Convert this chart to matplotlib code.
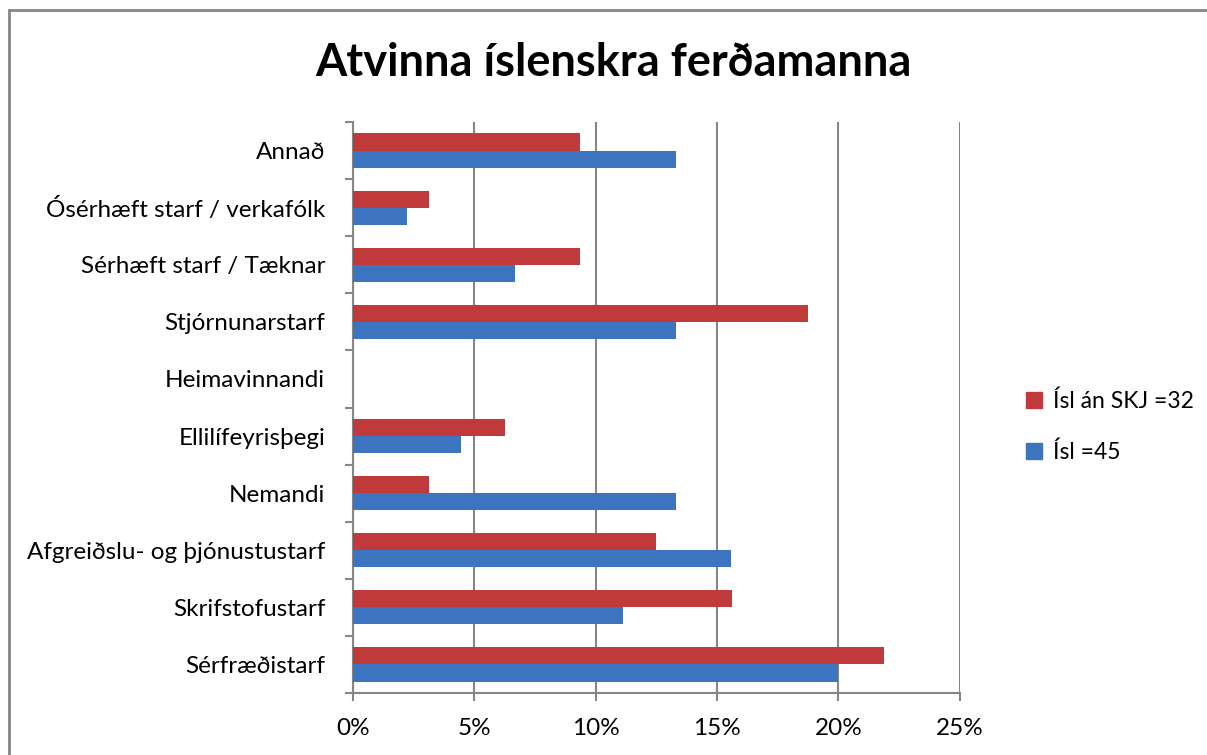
import numpy as np
import matplotlib.pyplot as plt
from matplotlib.patches import Rectangle, Patch
from matplotlib.ticker import PercentFormatter

categories = [
    "Sérfræðistarf",
    "Skrifstofustarf",
    "Afgreiðslu- og þjónustustarf",
    "Nemandi",
    "Ellilífeyrisþegi",
    "Heimavinnandi",
    "Stjórnunarstarf",
    "Sérhæft starf / Tæknar",
    "Ósérhæft starf / verkafólk",
    "Annað",
]
isl_45 = [20.0, 11.11, 15.56, 13.33, 4.44, 0.0, 13.33, 6.67, 2.22, 13.33]
isl_an_skj = [21.875, 15.625, 12.5, 3.125, 6.25, 0.0, 18.75, 9.375, 3.125, 9.375]
series_names = ["Ísl án SKJ =32", "Ísl =45"]
x_ticks = [0, 5, 10, 15, 20, 25]

plt.rcParams["font.family"] = ["Lato", "DejaVu Sans"]

red = "#C0393B"
blue = "#3C74C0"
grid_c = "#868686"

fig = plt.figure(figsize=(12.07, 7.55), dpi=100)
ax = fig.add_axes([0.2925, 0.0821, 0.5025, 0.7563])

y = np.arange(len(categories))
h = 0.3
ax.barh(y + h / 2, isl_an_skj, height=h, color=red, zorder=3)
ax.barh(y - h / 2, isl_45, height=h, color=blue, zorder=3)

ax.set_xlim(0, 25)
ax.set_ylim(-0.5, len(categories) - 0.5)
ax.set_xticks(x_ticks)
ax.xaxis.set_major_formatter(PercentFormatter(decimals=0))
ax.grid(axis="x", color=grid_c, linewidth=1.5, zorder=0)

ax.set_yticks(y)
ax.set_yticklabels(categories)
ax.set_yticks(np.arange(-0.5, len(categories)), minor=True)
ax.tick_params(axis="y", which="major", length=0, pad=20, labelsize=17.5)
ax.tick_params(axis="y", which="minor", length=6, width=1.5, color=grid_c)
ax.tick_params(axis="x", length=6, width=1.5, color=grid_c, labelsize=17.5, pad=12)

for side in ["top", "right"]:
    ax.spines[side].set_visible(False)
for side in ["left", "bottom"]:
    ax.spines[side].set_color(grid_c)
    ax.spines[side].set_linewidth(1.5)

fig.text(0.508, 0.916, "Atvinna íslenskra ferðamanna", ha="center", va="center",
         fontsize=32.5, fontweight="bold")

handles = [Patch(color=red), Patch(color=blue)]
fig.legend(handles, series_names, loc="center left", bbox_to_anchor=(0.85, 0.435),
           frameon=False, fontsize=16.5, handlelength=0.7, handleheight=0.7,
           labelspacing=1.3, handletextpad=0.5, borderaxespad=0, borderpad=0)

# outer chart frame
fig.add_artist(Rectangle((9 / 1207, -0.01), 1.02, 1 - 10 / 755 + 0.01,
                         transform=fig.transFigure, fill=False,
                         edgecolor=grid_c, linewidth=2))

fig.savefig("out.png", dpi=100)
